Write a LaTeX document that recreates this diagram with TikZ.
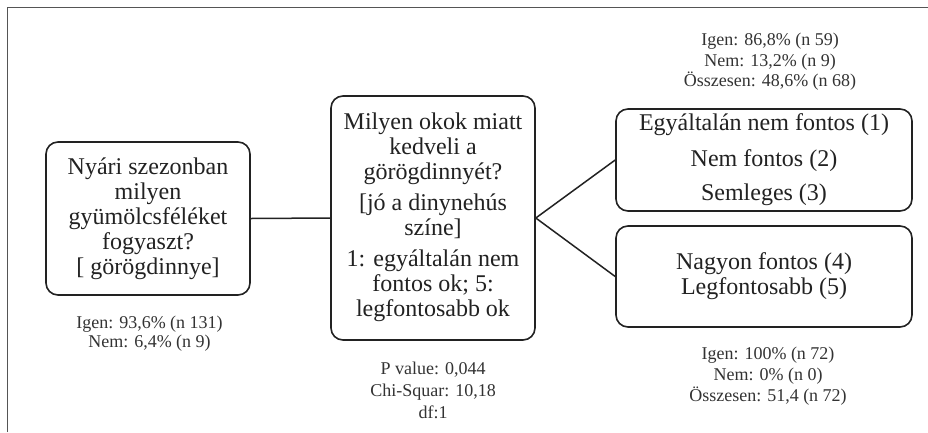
\documentclass[tikz,border=0pt]{standalone}
\usepackage{fontspec}
\setmainfont{Liberation Serif}
\definecolor{ink}{HTML}{222222}
\definecolor{statink}{HTML}{333333}
\definecolor{framegray}{HTML}{555555}
\begin{document}
\begin{tikzpicture}[x=1pt,y=-1pt,
  box/.style={draw=ink, line width=1.6pt, rounded corners=12pt, align=center,
    text=ink, inner sep=0pt, font=\fontsize{24}{25}\selectfont},
  conn/.style={draw=ink, line width=1.5pt},
  stat/.style={align=center, text=statink, inner sep=0pt},
]
\useasboundingbox[fill=white] (0,0) rectangle (928,432);
\draw[framegray, line width=1pt] (7,432) -- (7,7) -- (928,7);

\node[box, minimum width=204pt, minimum height=153pt] (q1) at (148,218.5)
  {Nyári szezonban\\milyen\\gyümölcsféléket\\fogyaszt?\\{}[ görögdinnye]};
\node[box, minimum width=204pt, minimum height=244pt] (q2) at (433,218)
  {\raisebox{2pt}{\begin{tabular}{@{}c@{}}Milyen okok miatt\\kedveli a\\görögdinnyét?\\[6pt]{[}jó a dinynehús\\színe]\\[6pt]1: egyáltalán nem\\fontos ok; 5:\\legfontosabb ok\end{tabular}}};
\node[box, minimum width=296pt, minimum height=102pt] (a1) at (764,160)
  {Egyáltalán nem fontos (1)\\[10.5pt]Nem fontos (2)\\[9.5pt]Semleges (3)};
\node[box, minimum width=296pt, minimum height=101pt] (a2) at (764,276.5)
  {Nagyon fontos (4)\\Legfontosabb (5)};

\draw[conn] (q1.east) -- (q2.west);
\draw[conn] (q2.east) -- (a1.west);
\draw[conn] (q2.east) -- (a2.west);

\node[stat, font=\fontsize{18}{19}\selectfont] (s1) at (149.5,334)
  {Igen: 93,6\% (n 131)\\Nem: 6,4\% (n 9)};
\node[stat, font=\fontsize{18}{22}\selectfont] (s2) at (433,390)
  {P value: 0,044\\Chi-Squar: 10,18\\df:1};
\node[stat, font=\fontsize{18}{20.5}\selectfont] (s3) at (770,62)
  {Igen: 86,8\% (n 59)\\Nem: 13,2\% (n 9)\\Összesen: 48,6\% (n 68)};
\node[stat, font=\fontsize{18}{21}\selectfont] (s4) at (768,376)
  {Igen: 100\% (n 72)\\Nem: 0\% (n 0)\\Összesen: 51,4 (n 72)};
\end{tikzpicture}
\end{document}
